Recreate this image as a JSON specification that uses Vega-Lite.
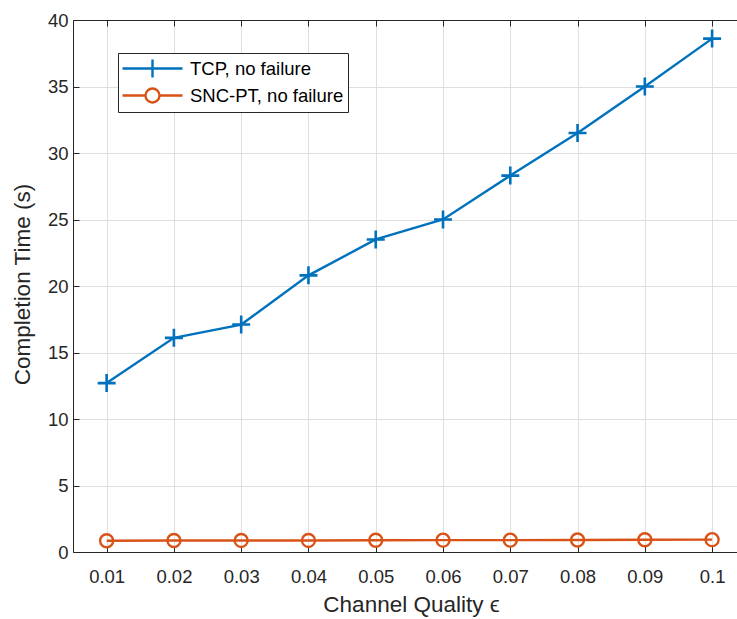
{
  "$schema": "https://vega.github.io/schema/vega-lite/v6.json",
  "width": 664,
  "height": 532,
  "autosize": {"type": "none"},
  "padding": {"left": 73, "top": 20, "right": 0, "bottom": 67},
  "background": "white",
  "config": {
    "font": "Liberation Sans",
    "view": {"stroke": null},
    "axis": {
      "domainColor": "#262626",
      "tickColor": "#262626",
      "labelColor": "#262626",
      "titleColor": "#262626",
      "labelFont": "Liberation Sans",
      "titleFont": "Liberation Sans",
      "labelFontSize": 18.5,
      "titleFontSize": 22.5,
      "titleFontWeight": "normal",
      "gridColor": "#dfdfdf",
      "gridWidth": 1,
      "tickSize": -6,
      "domainWidth": 1
    }
  },
  "data": {
    "values": [
      {"x": 0.01, "y": 12.7, "series": "TCP, no failure"},
      {"x": 0.02, "y": 16.1, "series": "TCP, no failure"},
      {"x": 0.03, "y": 17.1, "series": "TCP, no failure"},
      {"x": 0.04, "y": 20.8, "series": "TCP, no failure"},
      {"x": 0.05, "y": 23.5, "series": "TCP, no failure"},
      {"x": 0.06, "y": 25.0, "series": "TCP, no failure"},
      {"x": 0.07, "y": 28.3, "series": "TCP, no failure"},
      {"x": 0.08, "y": 31.5, "series": "TCP, no failure"},
      {"x": 0.09, "y": 35.0, "series": "TCP, no failure"},
      {"x": 0.1, "y": 38.6, "series": "TCP, no failure"},
      {"x": 0.01, "y": 0.85, "series": "SNC-PT, no failure"},
      {"x": 0.02, "y": 0.86, "series": "SNC-PT, no failure"},
      {"x": 0.03, "y": 0.87, "series": "SNC-PT, no failure"},
      {"x": 0.04, "y": 0.87, "series": "SNC-PT, no failure"},
      {"x": 0.05, "y": 0.88, "series": "SNC-PT, no failure"},
      {"x": 0.06, "y": 0.89, "series": "SNC-PT, no failure"},
      {"x": 0.07, "y": 0.89, "series": "SNC-PT, no failure"},
      {"x": 0.08, "y": 0.9, "series": "SNC-PT, no failure"},
      {"x": 0.09, "y": 0.92, "series": "SNC-PT, no failure"},
      {"x": 0.1, "y": 0.93, "series": "SNC-PT, no failure"}
    ]
  },
  "resolve": {"axis": {"x": "independent"}},
  "layer": [
    {
      "mark": {"type": "line", "strokeWidth": 2.4},
      "encoding": {
        "x": {
          "field": "x", "type": "quantitative",
          "scale": {"domain": [0.005, 0.1037], "nice": false, "zero": false},
          "axis": {
            "values": [0.01, 0.02, 0.03, 0.04, 0.05, 0.06, 0.07, 0.08, 0.09, 0.1],
            "format": ".2~f",
            "labelPadding": 21,
            "title": "Channel Quality ϵ",
            "titleX": 338,
            "titleY": 59,
            "titleBaseline": "alphabetic"
          }
        },
        "y": {
          "field": "y", "type": "quantitative",
          "scale": {"domain": [0, 40], "nice": false},
          "axis": {
            "values": [0, 5, 10, 15, 20, 25, 30, 35, 40],
            "labelPadding": 11,
            "title": "Completion Time (s)",
            "titleX": -43.5,
            "titleY": 264,
            "titleAngle": -90,
            "titleBaseline": "alphabetic",
            "titleAlign": "center"
          }
        },
        "color": {
          "field": "series", "type": "nominal",
          "scale": {"domain": ["TCP, no failure", "SNC-PT, no failure"], "range": ["#0072BD", "#D95319"]},
          "legend": {
            "orient": "none",
            "legendX": 45,
            "legendY": 33,
            "title": null,
            "strokeColor": "#262626",
            "fillColor": "white",
            "padding": 4,
            "labelFont": "Liberation Sans",
            "labelFontSize": 18.5,
            "labelColor": "#000000",
            "labelLimit": 300,
            "symbolSize": 400,
            "symbolStrokeWidth": 2.4,
            "labelOffset": 45,
            "rowPadding": 0,
            "encode": {
              "symbols": {
                "update": {
                  "shape": {"signal": "datum.value === 'TCP, no failure' ? 'M-1.1,0H4.9M1.9,-0.9V0.9' : 'M-1.1,0H1.2M2.6,0H4.9M2.6,0A0.7,0.7 0 1,1 1.2,0A0.7,0.7 0 1,1 2.6,0'"},
                  "fill": {"value": "transparent"}
                }
              }
            }
          }
        }
      }
    },
    {
      "transform": [{"filter": "datum.series === 'TCP, no failure'"}],
      "mark": {"type": "point", "shape": "M-1,0H1M0,-1V1", "size": 324, "filled": false, "strokeWidth": 2.6, "opacity": 1, "color": "#0072BD"},
      "encoding": {
        "x": {"field": "x", "type": "quantitative", "axis": null},
        "y": {"field": "y", "type": "quantitative"}
      }
    },
    {
      "transform": [{"filter": "datum.series === 'SNC-PT, no failure'"}],
      "mark": {"type": "point", "shape": "circle", "size": 169, "filled": false, "strokeWidth": 2.4, "opacity": 1, "color": "#D95319"},
      "encoding": {
        "x": {"field": "x", "type": "quantitative", "axis": null},
        "y": {"field": "y", "type": "quantitative"}
      }
    },
    {
      "mark": {"type": "point", "opacity": 0},
      "encoding": {
        "x": {
          "field": "x", "type": "quantitative",
          "axis": {
            "orient": "top",
            "values": [0.01, 0.02, 0.03, 0.04, 0.05, 0.06, 0.07, 0.08, 0.09, 0.1],
            "labels": false,
            "grid": false,
            "title": null
          }
        },
        "y": {"field": "y", "type": "quantitative"}
      }
    }
  ]
}
